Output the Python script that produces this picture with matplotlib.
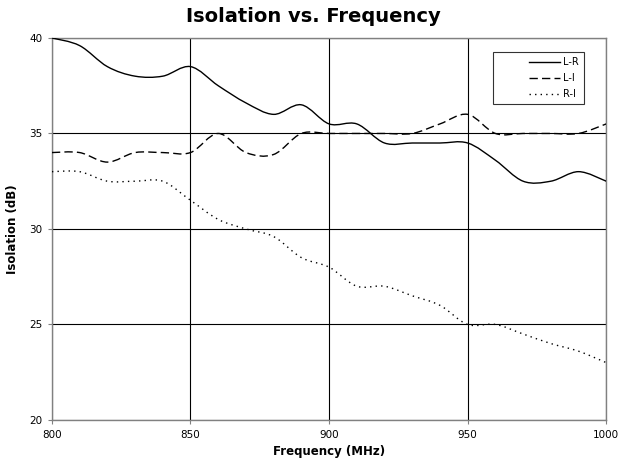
import numpy as np
import matplotlib
matplotlib.use("Agg")
import matplotlib.pyplot as plt
from matplotlib.path import Path
from matplotlib.patches import PathPatch
from matplotlib.lines import Line2D
from matplotlib.legend_handler import HandlerLine2D

# ---------------------------------------------------------------
# Data (every 10 MHz)
# ---------------------------------------------------------------
freq = [800, 810, 820, 830, 840, 850, 860, 870, 880, 890, 900,
        910, 920, 930, 940, 950, 960, 970, 980, 990, 1000]
l_r = [40.0, 39.6, 38.5, 38.0, 38.0, 38.5, 37.5, 36.6, 36.0, 36.5, 35.5,
       35.5, 34.5, 34.5, 34.5, 34.5, 33.6, 32.5, 32.5, 33.0, 32.5]
l_i = [34.0, 34.0, 33.5, 34.0, 34.0, 34.0, 35.0, 34.0, 33.9, 35.0, 35.0,
       35.0, 35.0, 35.0, 35.5, 36.0, 35.0, 35.0, 35.0, 35.0, 35.5]
r_i = [33.0, 33.0, 32.5, 32.5, 32.5, 31.5, 30.5, 30.0, 29.6, 28.5, 28.0,
       27.0, 27.0, 26.5, 26.0, 25.0, 25.0, 24.5, 24.0, 23.6, 23.0]

series = [("L-R", l_r, "-"), ("L-I", l_i, (0, (6, 3))), ("R-I", r_i, (0, (1, 3)))]


def smooth_path(x, y):
    # Excel-style smoothed line: cubic Bezier segments through the points
    x = np.asarray(x, float)
    y = np.asarray(y, float)
    verts = [(x[0], y[0])]
    codes = [Path.MOVETO]
    n = len(x)
    for i in range(n - 1):
        x0, y0 = (x[i - 1], y[i - 1]) if i > 0 else (x[i], y[i])
        x3, y3 = (x[i + 2], y[i + 2]) if i + 2 < n else (x[i + 1], y[i + 1])
        c1 = (x[i] + (x[i + 1] - x0) / 6, y[i] + (y[i + 1] - y0) / 6)
        c2 = (x[i + 1] - (x3 - x[i]) / 6, y[i + 1] - (y3 - y[i]) / 6)
        verts += [c1, c2, (x[i + 1], y[i + 1])]
        codes += [Path.CURVE4] * 3
    return Path(verts, codes)


class RightLine(HandlerLine2D):
    # legend line drawn only in the right part of the handle box (Excel look)
    def create_artists(self, legend, orig_handle, xdescent, ydescent,
                       width, height, fontsize, trans):
        off = 0.5 * width
        return super().create_artists(legend, orig_handle, xdescent - off, ydescent,
                                      width - off, height, fontsize, trans)


fig = plt.figure(figsize=(6.18, 4.63), dpi=100)
ax = fig.add_axes([0.084, 0.093, 0.897, 0.825])

handles = []
for name, vals, ls in series:
    patch = PathPatch(smooth_path(freq, vals), fill=False, edgecolor="black",
                      linewidth=1.0, linestyle=ls, zorder=3)
    ax.add_patch(patch)
    handles.append(Line2D([], [], color="black", linewidth=1.0, linestyle=ls, label=name))

ax.set_xlim(800, 1000)
ax.set_ylim(20, 40)
ax.set_xticks([800, 850, 900, 950, 1000])
ax.set_yticks([20, 25, 30, 35, 40])
ax.grid(True, color="black", linewidth=0.8)
ax.set_axisbelow(True)
for sp in ax.spines.values():
    sp.set_color("#808080")
    sp.set_linewidth(1.0)
ax.tick_params(direction="out", length=3, width=0.8, color="#808080",
               labelsize=7.5, pad=4)

ax.set_xlabel("Frequency (MHz)", fontsize=8.5, fontweight="bold", labelpad=4)
ax.set_ylabel("Isolation (dB)", fontsize=8.5, fontweight="bold", labelpad=7)
fig.suptitle("Isolation vs. Frequency", x=0.507, y=0.985, fontsize=14,
             fontweight="bold")

leg = ax.legend(handles=handles, loc="upper right", bbox_to_anchor=(0.968, 0.975),
                fontsize=7, frameon=True, fancybox=False, handlelength=6.4,
                handletextpad=0.3, borderpad=0.5, labelspacing=0.6,
                handler_map={Line2D: RightLine()})
leg.get_frame().set_edgecolor("black")
leg.get_frame().set_linewidth(0.8)

plt.savefig("out.png", dpi=100)
plt.close()
